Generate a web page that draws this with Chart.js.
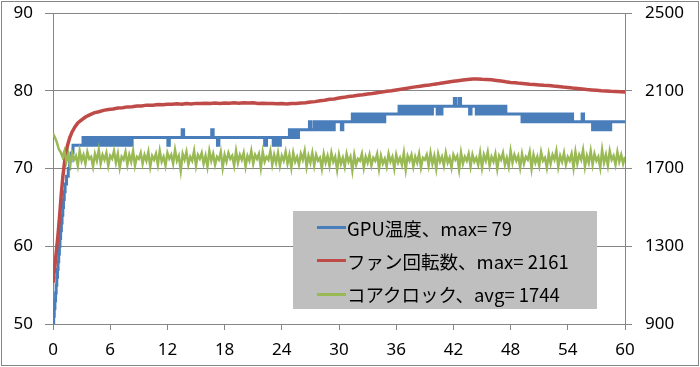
<!DOCTYPE html>
<html>
<head>
<meta charset="utf-8">
<script src="https://cdn.jsdelivr.net/npm/chart.js@4"></script>
<style>
body { margin: 0; background: #fff; }
#wrap { position: relative; width: 700px; height: 367px; }
#legend { position: absolute; left: 293px; top: 211px; width: 304px; height: 98px; background: #bfbfbf;
	font-family: "Noto Sans CJK JP", sans-serif; font-size: 18.5px; color: #000; }
.item { position: absolute; left: 0; height: 33px; display: flex; align-items: center; white-space: nowrap; }
.swatch { display: inline-block; width: 29px; height: 3px; margin-left: 24px; margin-right: 1px; }
</style>
</head>
<body>
<div id="wrap">
	<canvas id="line-chart" width="700" height="367"></canvas>
	<div id="legend"></div>
</div>
<script>
const seriesNames = ["GPU温度、max= 79", "ファン回転数、max= 2161", "コアクロック、avg= 1744"];

// GPU temperature: [minute, degrees] - value holds from that minute on
const tempPoints = [
	[0,50],[0.07,51],[0.13,52],[0.2,53],[0.27,54],[0.33,55],[0.4,56],[0.47,57],[0.53,58],[0.6,59],[0.67,60],[0.73,61],[0.8,62],[0.88,63],[0.95,64],[1.03,65],[1.1,66],[1.18,67],[1.27,68],[1.42,69],[1.6,70],[1.75,71],[1.9,72],[2.1,73],
	[3.15,74],[3.3,73],[3.45,74],[3.6,73],[3.75,74],[3.9,73],[4.05,74],[4.2,73],[4.35,74],[4.5,73],[4.7,74],
	[4.95,73],[5.1,74],[5.25,73],[5.4,74],[5.55,73],[5.65,74],
	[5.85,73],[6.0,74],[6.15,73],[6.3,74],
	[6.5,73],[6.65,74],[6.8,73],[7.0,74],
	[7.2,73],[7.35,74],[7.5,73],[7.65,74],[7.8,73],[7.95,74],[8.1,73],[8.3,74],
	[12.05,73],[12.2,74],[13.55,75],[13.7,74],[16.65,75],[16.8,74],[17.25,73],[17.4,74],
	[22.2,73],[22.4,74],[23.1,73],[23.25,74],[23.4,73],[23.55,74],[23.7,73],[23.85,74],
	[24.8,75],[24.95,74],[25.1,75],[25.25,74],[25.4,75],[25.55,74],[25.75,75],
	[26.9,76],[27.05,75],
	[27.4,76],[27.55,75],[27.7,76],[27.85,75],[28.0,76],[28.15,75],[28.3,76],[28.45,75],[28.6,76],[28.75,75],[28.9,76],[29.05,75],[29.2,76],[29.35,75],[29.5,76],
	[30.25,75],[30.4,76],
	[31.4,77],[31.55,76],[31.7,77],[31.85,76],[32.0,77],[32.15,76],[32.3,77],[32.45,76],[32.6,77],[32.75,76],[32.9,77],[33.05,76],[33.2,77],[33.35,76],[33.5,77],[33.65,76],[33.8,77],[33.95,76],[34.1,77],[34.25,76],[34.4,77],[34.55,76],[34.8,77],
	[36.3,78],[36.45,77],[36.6,78],[36.75,77],[36.9,78],[37.05,77],[37.2,78],[37.35,77],[37.5,78],[37.65,77],[37.8,78],[37.95,77],[38.1,78],[38.25,77],[38.4,78],[38.55,77],[38.7,78],[38.85,77],[39.0,78],[39.15,77],[39.3,78],[39.45,77],[39.6,78],[39.7,77],[39.8,78],
	[40.3,77],[40.45,78],[40.65,77],[40.8,78],
	[42.1,79],[42.25,78],[42.6,79],[42.75,78],
	[43.7,77],[43.85,78],
	[44.4,77],[44.55,78],[44.7,77],[44.85,78],[45.0,77],[45.15,78],[45.3,77],[45.4,78],
	[45.6,77],[45.75,78],[45.9,77],[46.05,78],[46.2,77],[46.35,78],[46.5,77],[46.6,78],
	[46.8,77],[46.95,78],[47.1,77],[47.25,78],[47.5,77],
	[49.2,76],[49.35,77],[49.5,76],[49.65,77],[49.8,76],[49.95,77],[50.1,76],[50.25,77],[50.4,76],[50.55,77],[50.7,76],[50.85,77],[51.0,76],[51.15,77],[51.3,76],[51.45,77],[51.6,76],[51.75,77],[51.9,76],[52.05,77],[52.2,76],[52.35,77],[52.5,76],[52.65,77],[52.8,76],[52.95,77],[53.1,76],[53.25,77],[53.4,76],[53.55,77],[53.7,76],[53.85,77],[54.0,76],[54.15,77],[54.3,76],[54.4,77],[54.5,76],
	[55.5,77],[55.65,76],
	[56.6,75],[56.75,76],[56.9,75],[57.1,76],[57.4,75],[57.55,76],[57.7,75],[57.85,76],[58.0,75],[58.15,76],[58.3,75],[58.5,76],
	[60,76]
];

// fan speed: [minute, rpm]
const fanPoints = [
	[0,1110],[0.2,1200],[0.35,1275],[0.5,1345],[0.7,1460],[0.87,1570],[1.05,1665],[1.23,1740],[1.5,1815],[1.75,1858],[2,1888],[2.3,1914],[2.6,1934],[3,1950],[3.4,1965],[3.85,1976],
	[4.3,1986],[4.8,1992],[5.3,1999],[5.8,2003],[6.3,2006],[6.8,2011],[7.3,2013],[7.8,2017],[8.3,2018],[8.8,2022],[9.3,2022],[9.8,2026],[10.5,2026],[11,2029],[11.5,2028],
	[12,2031],[12.5,2030],[13,2033],[13.5,2031],[14,2034],[14.5,2032],[15,2035],[15.5,2034],[16,2036],[16.5,2034],[17,2037],[17.5,2035],[18,2037],[18.5,2036],[19,2038],[19.5,2036],
	[20,2038],[20.5,2037],[21,2038],[21.5,2035],[22,2036],[22.5,2034],[23,2035],[23.5,2033],[24,2034],[24.5,2032],[25,2034],[25.5,2034],[26,2037],[26.5,2038],[27,2042],[27.5,2044],
	[28,2049],[28.5,2051],[29,2056],[29.5,2058],[30,2063],[30.5,2066],[31,2070],[31.5,2073],[32,2077],[32.5,2079],[33,2083],[33.5,2086],[34,2090],[34.5,2093],[35,2097],[35.5,2100],
	[36,2104],[36.5,2108],[37,2112],[37.5,2116],[38,2120],[38.5,2123],[39,2127],[39.5,2130],[40,2134],[40.5,2137],[41,2141],[41.5,2145],[42,2149],[42.5,2152],[43,2155],[43.5,2158],
	[44,2160],[44.5,2161],[45,2159],[45.5,2158],[46,2156],[46.5,2153],[47,2150],[47.5,2146],[48,2143],[48.5,2141],[49,2138],[49.5,2136],[50,2133],[50.5,2132],[51,2130],[51.5,2128],
	[52,2127],[52.5,2124],[53,2122],[53.5,2119],[54,2117],[54.5,2114],[55,2112],[55.5,2109],[56,2106],[56.5,2104],[57,2102],[57.5,2100],[58,2099],[58.5,2097],[59,2096],[59.5,2095],[60,2094]
];

// core clock (MHz), one sample every clockStep minutes from 0
const clockStep = 0.2;
const clockValues = [
	1880,1860,1835,1800,1785,1760,1790,1735,1775,1720,1780,1745,1765,1715,1790,1740,1770,1725,1785,1750,1760,1710,1775,1740,1795,
	1725,1770,1745,1780,1715,1765,1750,1790,1730,1775,1705,1760,1745,1785,1720,1770,1735,1790,1715,1760,1750,1780,1725,1770,1740,
	1785,1710,1765,1745,1775,1720,1790,1735,1760,1715,1780,1750,1770,1725,1795,1740,1765,1690,1775,1745,1785,1720,1760,1740,1790,
	1715,1770,1750,1780,1725,1765,1710,1790,1740,1775,1720,1760,1745,1785,1705,1770,1735,1780,1750,1765,1715,1790,1730,1770,1745,
	1780,1710,1765,1740,1790,1725,1770,1750,1775,1705,1785,1735,1760,1745,1790,1720,1770,1730,1780,1715,1765,1740,1785,1725,1770,
	1705,1780,1735,1760,1720,1775,1745,1790,1710,1765,1730,1780,1715,1770,1740,1755,1700,1775,1730,1765,1715,1780,1735,1760,1695,
	1770,1725,1755,1710,1775,1735,1760,1690,1770,1720,1750,1740,1775,1705,1760,1730,1770,1715,1755,1740,1775,1700,1765,1725,1750,
	1710,1775,1735,1760,1700,1770,1730,1755,1720,1780,1695,1765,1740,1770,1710,1760,1730,1775,1705,1755,1745,1770,1715,1780,1725,
	1765,1700,1775,1735,1760,1715,1780,1730,1755,1705,1770,1745,1765,1695,1780,1725,1760,1740,1775,1710,1770,1735,1755,1720,1780,
	1705,1770,1740,1785,1715,1760,1735,1775,1700,1765,1745,1780,1720,1755,1710,1790,1730,1770,1740,1765,1705,1775,1725,1760,1745,
	1785,1700,1770,1730,1760,1715,1785,1740,1755,1705,1775,1725,1770,1745,1790,1710,1765,1735,1780,1720,1760,1740,1775,1705,1785,
	1725,1770,1745,1795,1710,1765,1730,1790,1720,1775,1740,1760,1705,1795,1730,1770,1715,1790,1745,1765,1720,1785,1735,1770,1725,
	1760
];

const gray = "#868686";
const tickFont = { family: '"Noto Sans", sans-serif', size: 17 };
const plainNumber = v => String(v);

const frame = {
	id: "frame",
	beforeDraw(chart) {
		const c = chart.ctx;
		c.save();
		c.fillStyle = "#fff";
		c.fillRect(0, 0, chart.width, chart.height);
		c.restore();
	},
	afterDraw(chart) {
		const c = chart.ctx;
		c.save();
		c.strokeStyle = gray;
		c.lineWidth = 1;
		c.strokeRect(1.5, 1.5, 697, 364);
		c.restore();
	}
};

function fixWidth(w) {
	return s => { s.width = w; s.paddingTop = 0; s.paddingBottom = 0; };
}

const chart = new Chart(document.getElementById("line-chart"), {
	type: "line",
	data: {
		datasets: [{
			label: seriesNames[0],
			data: tempPoints.map(p => ({ x: p[0], y: p[1] })),
			yAxisID: "y",
			borderColor: "#4a7ebb",
			borderWidth: 3,
			stepped: true,
			pointRadius: 0,
			order: 3
		}, {
			label: seriesNames[1],
			data: fanPoints.map(p => ({ x: p[0], y: p[1] })),
			yAxisID: "y2",
			borderColor: "#be4b48",
			borderWidth: 3.5,
			pointRadius: 0,
			order: 2
		}, {
			label: seriesNames[2],
			data: clockValues.map((v, i) => ({ x: i * clockStep, y: v })),
			yAxisID: "y2",
			borderColor: "#98b954",
			borderWidth: 2.5,
			pointRadius: 0,
			order: 1
		}]
	},
	options: {
		responsive: false,
		animation: false,
		devicePixelRatio: 1,
		layout: { padding: { top: 13, left: 0, right: 0, bottom: 0 } },
		plugins: { legend: { display: false }, tooltip: { enabled: false } },
		scales: {
			x: {
				type: "linear", min: 0, max: 60,
				ticks: { stepSize: 6, color: "#000", font: tickFont, padding: 10, maxRotation: 0 },
				grid: { drawOnChartArea: false, color: gray, tickLength: 6 },
				border: { color: gray },
				afterFit(s) { s.height = 43; s.paddingLeft = 0; s.paddingRight = 0; }
			},
			y: {
				position: "left", min: 50, max: 90,
				ticks: { stepSize: 10, color: "#000", font: tickFont, padding: 12, callback: plainNumber },
				grid: { color: gray, tickLength: 8 },
				border: { color: gray },
				afterFit: fixWidth(53)
			},
			y2: {
				position: "right", min: 900, max: 2500,
				ticks: { stepSize: 400, color: "#000", font: tickFont, padding: 13, callback: plainNumber },
				grid: { drawOnChartArea: false, color: gray, tickLength: 7 },
				border: { color: gray },
				afterFit: fixWidth(75)
			}
		}
	},
	plugins: [frame]
});

// legend box inside the plot, built from the datasets
const legend = document.getElementById("legend");
chart.data.datasets.forEach((ds, i) => {
	const row = document.createElement("div");
	row.className = "item";
	row.style.top = (0 + i * 33.3) + "px";
	const sw = document.createElement("span");
	sw.className = "swatch";
	sw.style.background = ds.borderColor;
	const txt = document.createElement("span");
	txt.textContent = ds.label;
	row.appendChild(sw);
	row.appendChild(txt);
	legend.appendChild(row);
});
</script>
</body>
</html>
